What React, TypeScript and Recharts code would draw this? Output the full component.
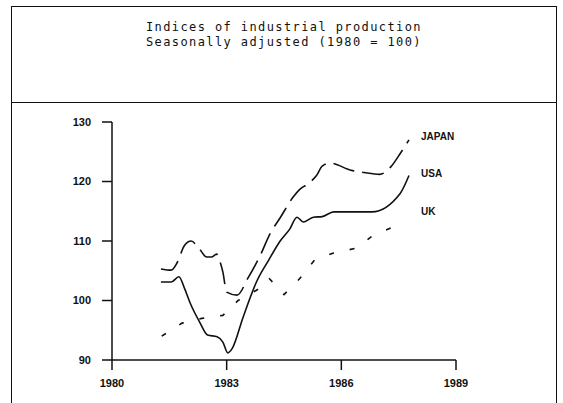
import React from 'react';
import { LineChart, Line, XAxis, YAxis } from 'recharts';

const yearTicks = [1980, 1983, 1986, 1989];
const indexTicks = [90, 100, 110, 120, 130];
const titleLines = ['Indices of industrial production', 'Seasonally adjusted (1980 = 100)'];
const seriesNames = ['JAPAN', 'USA', 'UK'];

const usa = [
  { year: 1981.28, value: 103.1 },
  { year: 1981.55, value: 103.1 },
  { year: 1981.75, value: 104.0 },
  { year: 1981.9, value: 102.0 },
  { year: 1982.05, value: 99.5 },
  { year: 1982.3, value: 96.3 },
  { year: 1982.5, value: 94.2 },
  { year: 1982.75, value: 93.9 },
  { year: 1982.9, value: 93.0 },
  { year: 1983.03, value: 91.2 },
  { year: 1983.15, value: 92.0 },
  { year: 1983.43, value: 97.2 },
  { year: 1983.8, value: 103.4 },
  { year: 1984.1, value: 106.8 },
  { year: 1984.4, value: 110.0 },
  { year: 1984.65, value: 112.0 },
  { year: 1984.84, value: 114.0 },
  { year: 1985.0, value: 113.2 },
  { year: 1985.27, value: 114.0 },
  { year: 1985.5, value: 114.1 },
  { year: 1985.8, value: 114.9 },
  { year: 1986.8, value: 114.9 },
  { year: 1987.54, value: 118.0 },
  { year: 1987.77, value: 121.0 },
];

const japan = [
  { year: 1981.28, value: 105.3 },
  { year: 1981.55, value: 105.1 },
  { year: 1981.7, value: 106.3 },
  { year: 1981.9, value: 109.3 },
  { year: 1982.07, value: 110.0 },
  { year: 1982.25, value: 109.0 },
  { year: 1982.48, value: 107.3 },
  { year: 1982.6, value: 107.3 },
  { year: 1982.74, value: 107.8 },
  { year: 1982.8, value: 107.0 },
  { year: 1982.9, value: 104.8 },
  { year: 1983.0, value: 101.4 },
  { year: 1983.27, value: 100.9 },
  { year: 1983.56, value: 103.8 },
  { year: 1983.88, value: 107.6 },
  { year: 1984.14, value: 111.3 },
  { year: 1984.4, value: 113.9 },
  { year: 1984.74, value: 117.4 },
  { year: 1984.9, value: 118.6 },
  { year: 1985.1, value: 119.5 },
  { year: 1985.2, value: 120.0 },
  { year: 1985.35, value: 121.0 },
  { year: 1985.5, value: 122.6 },
  { year: 1985.7, value: 123.1 },
  { year: 1986.25, value: 121.9 },
  { year: 1986.6, value: 121.5 },
  { year: 1987.0, value: 121.2 },
  { year: 1987.3, value: 122.5 },
  { year: 1987.55, value: 124.8 },
  { year: 1987.77, value: 127.0 },
];

const uk = [
  { year: 1981.3, value: 94.0 },
  { year: 1981.83, value: 96.2 },
  { year: 1982.35, value: 97.0 },
  { year: 1982.9, value: 97.5 },
  { year: 1983.3, value: 100.0 },
  { year: 1983.8, value: 101.8 },
  { year: 1984.1, value: 103.8 },
  { year: 1984.5, value: 101.0 },
  { year: 1984.9, value: 103.6 },
  { year: 1985.3, value: 106.8 },
  { year: 1985.8, value: 108.0 },
  { year: 1986.4, value: 108.8 },
  { year: 1986.8, value: 110.8 },
  { year: 1987.3, value: 112.2 },
  { year: 1987.5, value: 113.0 },
];

const ink = '#111';
const tickFont = { fontFamily: 'Liberation Sans, Arial, sans-serif', fontSize: 11, fontWeight: 700, fill: ink };

export default function App() {
  return (
    <div style={{ position: 'absolute', left: 0, top: 0, width: 563, height: 403, background: '#fff', overflow: 'hidden' }}>
      <div style={{ position: 'absolute', left: 11, top: 6, width: 546, height: 420, border: `1.5px solid ${ink}`, boxSizing: 'border-box' }} />
      <div style={{ position: 'absolute', left: 11, top: 102, width: 546, height: 0, borderTop: `1.5px solid ${ink}` }} />
      <div style={{ position: 'absolute', left: 11, top: 20, width: 546, textAlign: 'center', fontFamily: 'DejaVu Sans Mono, monospace', fontSize: 12, letterSpacing: 1.4, lineHeight: '15px', color: ink }}>
        {titleLines.map((t) => (<div key={t}>{t}</div>))}
      </div>
      <div style={{ position: 'absolute', left: 0, top: 0 }}>
        <LineChart width={563} height={403} data={usa} margin={{ top: 122, right: 107, bottom: 13, left: 0 }}>
          <XAxis
            dataKey="year"
            type="number"
            domain={[1980, 1989]}
            ticks={yearTicks}
            allowDataOverflow
            height={30}
            tickSize={10}
            tickMargin={9}
            stroke={ink}
            strokeWidth={1.5}
            tick={tickFont}
          />
          <YAxis
            type="number"
            domain={[90, 130]}
            ticks={indexTicks}
            width={112}
            tickSize={10}
            tickMargin={11}
            stroke={ink}
            strokeWidth={1.5}
            tick={tickFont}
          />
          <Line data={japan} dataKey="value" type="monotone" stroke={ink} strokeWidth={1.6} strokeDasharray="22 8" dot={false} isAnimationActive={false} />
          <Line data={usa} dataKey="value" type="monotone" stroke={ink} strokeWidth={1.6} dot={false} isAnimationActive={false} />
          <Line data={uk} dataKey="value" type="linear" stroke={ink} strokeWidth={1.6} strokeDasharray="5 16" dot={false} isAnimationActive={false} />
        </LineChart>
      </div>
      {seriesNames.map((n, i) => (
        <div key={n} style={{ position: 'absolute', left: 421, top: [131, 168, 206][i], fontFamily: 'Liberation Sans, Arial, sans-serif', fontSize: 10, fontWeight: 700, color: ink }}>{n}</div>
      ))}
    </div>
  );
}
